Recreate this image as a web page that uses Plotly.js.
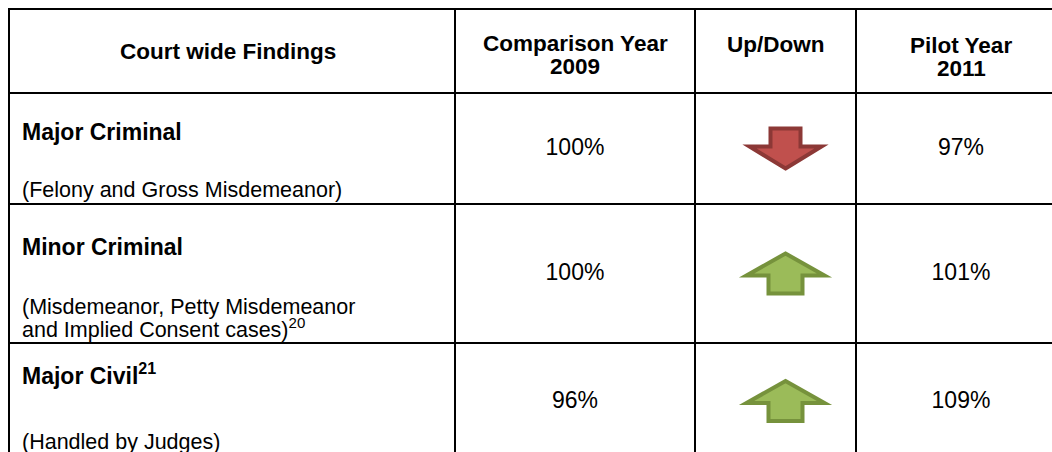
<!DOCTYPE html>
<html>
<head>
<meta charset="utf-8">
<script src="https://cdn.plot.ly/plotly-3.0.1.min.js"></script>
<style>html,body{margin:0;padding:0;background:#fff;}#chart{width:1052px;height:452px;}</style>
</head>
<body>
<div id="chart"></div>
<script>
// ---- data ----
const headers = [["Court wide Findings"], ["Comparison Year", "2009"], ["Up/Down"], ["Pilot Year", "2011"]];
const categories = ["Major Criminal", "Minor Criminal", "Major Civil"];
const categoryNotes = ["", "", "21"];
const subtitles = [
  ["(Felony and Gross Misdemeanor)"],
  ["(Misdemeanor, Petty Misdemeanor", "and Implied Consent cases)"],
  ["(Handled by Judges)"]
];
const subtitleNotes = ["", "20", ""];
const comparison2009 = [100, 100, 96];
const pilot2011 = [97, 101, 109];

// ---- layout geometry (pixels) ----
const W = 1052, H = 452;
const colEdges = [9, 455, 695, 856, 1066];
const rowEdges = [9, 93, 204, 343, 459];
const FONT = "Liberation Sans, Arial, sans-serif";
const FS_HEAD = 22.5, FS_TITLE = 23, FS_SUB = 21.5, FS_VAL = 23;

const shapes = [];
const annotations = [];
const lineStyle = {color: "#000", width: 2};
rowEdges.forEach(y => shapes.push({type: "line", xref: "x", yref: "y", x0: colEdges[0] - 1, x1: colEdges[colEdges.length - 1], y0: y, y1: y, line: lineStyle}));
colEdges.forEach(x => shapes.push({type: "line", xref: "x", yref: "y", x0: x, x1: x, y0: rowEdges[0] - 1, y1: rowEdges[rowEdges.length - 1], line: lineStyle}));

// header texts (one annotation per line)
const headerFirstY = [51, 43, 44, 45];
const headerGap = 23;
headers.forEach((h, i) => {
  h.forEach((ln, k) => {
    annotations.push({
      xref: "x", yref: "y", x: (colEdges[i] + colEdges[i + 1]) / 2 + (i === 0 ? -4 : 0), y: headerFirstY[i] + k * headerGap,
      text: "<b>" + ln + "</b>", showarrow: false, xanchor: "center", yanchor: "middle", borderpad: 0,
      font: {family: FONT, size: FS_HEAD, color: "#000"}
    });
  });
});

// row label texts
const titleY = [132, 247, 374];
const subLastY = [190, 328, 442];
const subGap = 21;
categories.forEach((c, r) => {
  annotations.push({
    xref: "x", yref: "y", x: colEdges[0] + 12, y: titleY[r],
    text: "<b>" + c + "</b>" + (categoryNotes[r] ? "<sup><b>" + categoryNotes[r] + "</b></sup>" : ""),
    showarrow: false, xanchor: "left", yanchor: "middle", borderpad: 0,
    font: {family: FONT, size: FS_TITLE, color: "#000"}
  });
  const lines = subtitles[r];
  lines.forEach((ln, k) => {
    const isLast = k === lines.length - 1;
    annotations.push({
      xref: "x", yref: "y", x: colEdges[0] + 12, y: subLastY[r] - (lines.length - 1 - k) * subGap,
      text: ln + (isLast && subtitleNotes[r] ? "<sup>" + subtitleNotes[r] + "</sup>" : ""),
      showarrow: false, xanchor: "left", yanchor: "middle", borderpad: 0,
      font: {family: FONT, size: FS_SUB, color: "#000"}
    });
  });
});

// arrows (direction from the data)
const red = {fill: "#C0504D", line: "#8C3836"};
const green = {fill: "#9BBB59", line: "#76923C"};
categories.forEach((c, r) => {
  const cy = (rowEdges[r + 1] + rowEdges[r + 2]) / 2;
  const cx = (colEdges[2] + colEdges[3]) / 2 + 10;
  const up = pilot2011[r] > comparison2009[r];
  const hw = up ? 39 : 36, sw = up ? 17 : 15, hh = 20;
  const top = cy - hh, bot = cy + hh;
  let path;
  if (up) {
    const headBase = top + 22;
    path = `M ${cx} ${top} L ${cx + hw} ${headBase} L ${cx + sw} ${headBase} L ${cx + sw} ${bot} L ${cx - sw} ${bot} L ${cx - sw} ${headBase} L ${cx - hw} ${headBase} Z`;
  } else {
    const headBase = bot - 22;
    path = `M ${cx} ${bot} L ${cx + hw} ${headBase} L ${cx + sw} ${headBase} L ${cx + sw} ${top} L ${cx - sw} ${top} L ${cx - sw} ${headBase} L ${cx - hw} ${headBase} Z`;
  }
  const col = up ? green : red;
  shapes.push({type: "path", xref: "x", yref: "y", path: path, fillcolor: col.fill, line: {color: col.line, width: 4}});
});

// value texts via traces
const rowMid = categories.map((c, r) => (rowEdges[r + 1] + rowEdges[r + 2]) / 2 + 1);
const trace2009 = {
  type: "scatter", mode: "text",
  x: categories.map(() => (colEdges[1] + colEdges[2]) / 2),
  y: rowMid,
  text: comparison2009.map(v => v + "%"),
  textposition: "middle center",
  textfont: {family: FONT, size: FS_VAL, color: "#000"},
  hoverinfo: "skip", showlegend: false
};
const trace2011 = {
  type: "scatter", mode: "text",
  x: categories.map(() => (colEdges[3] + colEdges[4]) / 2),
  y: rowMid,
  text: pilot2011.map(v => v + "%"),
  textposition: "middle center",
  textfont: {family: FONT, size: FS_VAL, color: "#000"},
  hoverinfo: "skip", showlegend: false
};

const layout = {
  width: W, height: H,
  margin: {l: 0, r: 0, t: 0, b: 0},
  paper_bgcolor: "#fff", plot_bgcolor: "#fff",
  xaxis: {range: [0, W], visible: false, fixedrange: true},
  yaxis: {range: [H, 0], visible: false, fixedrange: true},
  shapes: shapes, annotations: annotations, showlegend: false
};
Plotly.newPlot("chart", [trace2009, trace2011], layout, {displayModeBar: false, staticPlot: true});
</script>
</body>
</html>
